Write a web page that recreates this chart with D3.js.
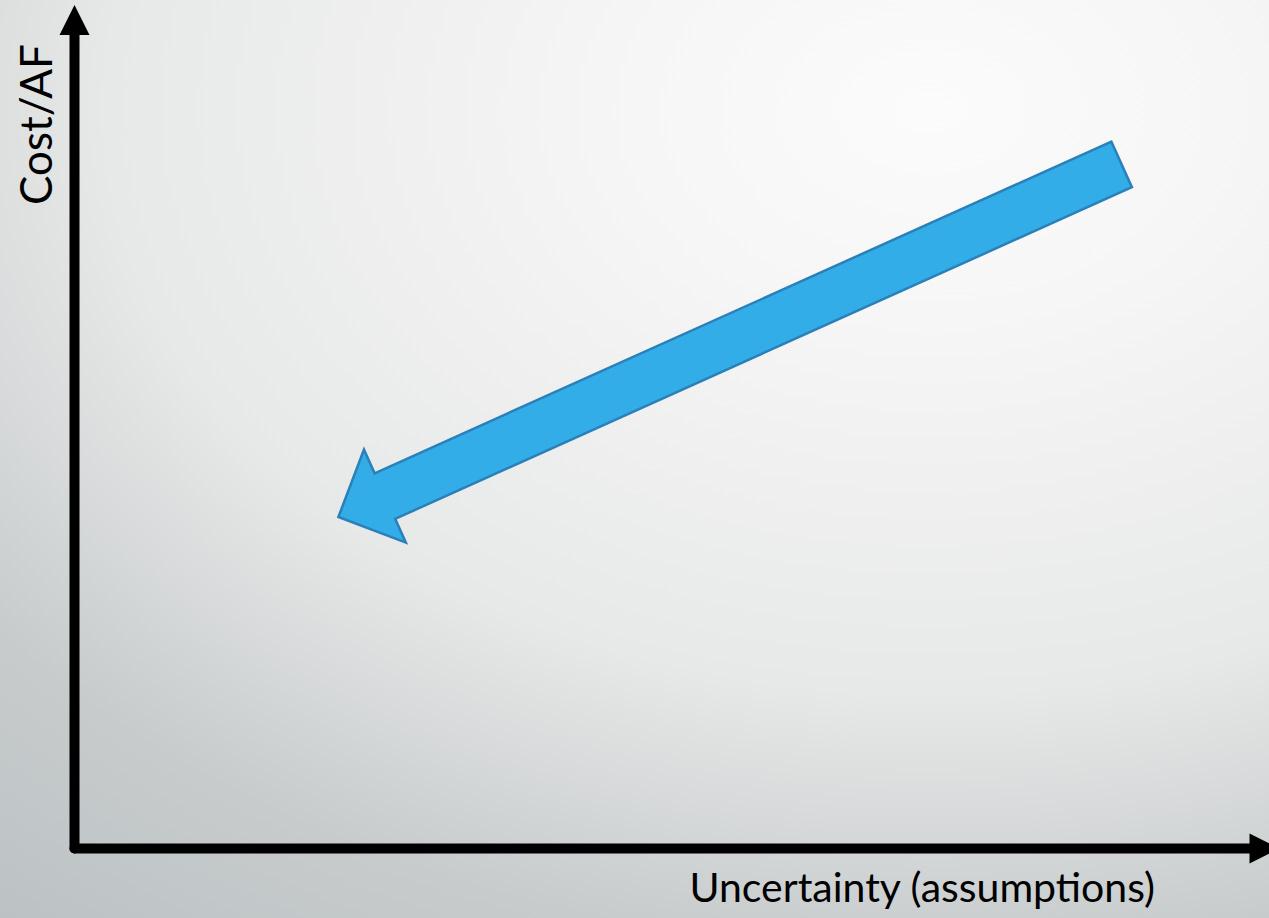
<!DOCTYPE html>
<html>
<head>
<meta charset="utf-8">
<script src="https://cdn.jsdelivr.net/npm/d3@7"></script>
<style>
html, body { margin: 0; padding: 0; overflow: hidden; background: #e6e7e7; }
svg { display: block; }
</style>
</head>
<body>
<div id="chart"></div>
<script>
// Concept chart: cost per acre-foot vs. uncertainty, with a trend arrow.

var xLabel = 'Uncertainty (assumptions)';
var yLabel = 'Cost/AF';
var xDomain = [0, 100];
var yDomain = [0, 100];

// Trend arrow, tail centre -> tip, in axis units
var arrowFrom = [86.9, 81.1];
var arrowTo = [21.9, 39.3];

var width = 1269;
var height = 918;
var origin = { x: 74.5, y: 848.5 };

var svg = d3.select('#chart').append('svg')
    .attr('width', width)
    .attr('height', height);

// ---- background (soft radial grey) ----
var defs = svg.append('defs');
var grad = defs.append('radialGradient')
    .attr('id', 'bg')
    .attr('gradientUnits', 'userSpaceOnUse')
    .attr('cx', 930).attr('cy', 110).attr('r', 1040)
    .attr('gradientTransform', 'translate(930,110) scale(1.414,1) translate(-930,-110)');
[[0, '#fbfbfb'], [0.2, '#f6f6f6'], [0.56, '#e7e8e8'], [0.81, '#c7cbcc'], [1, '#bcc2c4']].forEach(function(s) {
    grad.append('stop').attr('offset', s[0]).attr('stop-color', s[1]);
});
svg.append('rect')
    .attr('width', width).attr('height', height)
    .attr('fill', 'url(#bg)');

// ---- scales ----
var x = d3.scaleLinear().domain(xDomain).range([origin.x, 1279.5]);
var y = d3.scaleLinear().domain(yDomain).range([origin.y, 5]);

// ---- axes (plain arrows, no ticks) ----
var axisW = 10, headLen = 30, headHalf = 15;
var axes = svg.append('g');

axes.append('line')
    .attr('x1', x(xDomain[0])).attr('y1', y(yDomain[0]))
    .attr('x2', x(xDomain[0])).attr('y2', y(yDomain[1]) + headLen)
    .attr('stroke', '#000').attr('stroke-width', axisW)
    .attr('stroke-linecap', 'round');
axes.append('polygon')
    .attr('points', [
        [x(xDomain[0]), y(yDomain[1])],
        [x(xDomain[0]) - headHalf, y(yDomain[1]) + headLen],
        [x(xDomain[0]) + headHalf, y(yDomain[1]) + headLen]
    ].join(' '))
    .attr('fill', '#000');

axes.append('line')
    .attr('x1', x(xDomain[0])).attr('y1', y(yDomain[0]))
    .attr('x2', x(xDomain[1]) - headLen).attr('y2', y(yDomain[0]))
    .attr('stroke', '#000').attr('stroke-width', axisW)
    .attr('stroke-linecap', 'round');
axes.append('polygon')
    .attr('points', [
        [x(xDomain[1]), y(yDomain[0])],
        [x(xDomain[1]) - headLen, y(yDomain[0]) - headHalf],
        [x(xDomain[1]) - headLen, y(yDomain[0]) + headHalf]
    ].join(' '))
    .attr('fill', '#000');

// ---- axis labels ----
var font = "Lato, 'Open Sans', sans-serif";
svg.append('text')
    .attr('x', 1155).attr('y', 902)
    .attr('text-anchor', 'end')
    .attr('font-family', font)
    .attr('font-size', 41)
    .attr('fill', '#000')
    .text(xLabel);

svg.append('text')
    .attr('transform', 'translate(52,205) rotate(-90)')
    .attr('font-family', font)
    .attr('font-size', 44)
    .attr('fill', '#000')
    .text(yLabel);

// ---- trend arrow ----
function arrowPoints(p0, p1, shaftHalf, hHalf, hLen) {
    var dx = p1[0] - p0[0], dy = p1[1] - p0[1];
    var len = Math.sqrt(dx * dx + dy * dy);
    var ux = dx / len, uy = dy / len;
    var nx = -uy, ny = ux;
    var bx = p1[0] - ux * hLen, by = p1[1] - uy * hLen;
    return [
        [p0[0] + nx * shaftHalf, p0[1] + ny * shaftHalf],
        [bx + nx * shaftHalf, by + ny * shaftHalf],
        [bx + nx * hHalf, by + ny * hHalf],
        [p1[0], p1[1]],
        [bx - nx * hHalf, by - ny * hHalf],
        [bx - nx * shaftHalf, by - ny * shaftHalf],
        [p0[0] - nx * shaftHalf, p0[1] - ny * shaftHalf]
    ];
}

var pts = arrowPoints(
    [x(arrowFrom[0]), y(arrowFrom[1])],
    [x(arrowTo[0]), y(arrowTo[1])],
    25, 51, 51);

svg.append('polygon')
    .attr('points', pts.map(function(p) { return p.join(','); }).join(' '))
    .attr('fill', '#32ade8')
    .attr('stroke', '#2a80b9')
    .attr('stroke-width', 2.5)
    .attr('stroke-linejoin', 'miter');
</script>
</body>
</html>
